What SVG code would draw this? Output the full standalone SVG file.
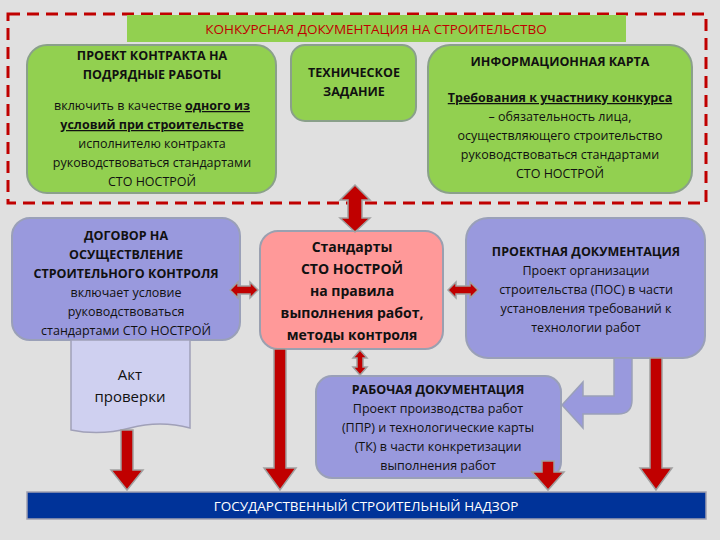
<svg xmlns="http://www.w3.org/2000/svg" width="720" height="540" viewBox="0 0 720 540">
<defs>
<style>
text{font-family:"Open Sans","Liberation Sans",sans-serif;text-anchor:middle;fill:#111}
.b{font-weight:bold}
.s{font-size:12.5px}
.h{font-size:12.5px;font-weight:bold}
.g{fill:#92d050;stroke:#8aa08a;stroke-width:2}
.p{fill:#9999dd;stroke:#9aa0b8;stroke-width:2}
.ar{fill:#c00000;stroke:#a0a0a0;stroke-width:1.5}
</style>
</defs>
<rect width="720" height="540" fill="#e0e0e0"/>
<rect x="8" y="14" width="698" height="189" fill="none" stroke="#c00000" stroke-width="3" stroke-dasharray="12,7"/>
<g id="title"><rect x="127" y="15" width="499" height="27" fill="#92d050"/>
<text x="376" y="34" style="font-size:13.5px;fill:#c00000">КОНКУРСНАЯ ДОКУМЕНТАЦИЯ НА СТРОИТЕЛЬСТВО</text></g>
<g id="contract"><rect class="g" x="27" y="45" width="249" height="148" rx="20"/>
<text class="h" x="152" y="60">ПРОЕКТ КОНТРАКТА НА</text>
<text class="h" x="152" y="79">ПОДРЯДНЫЕ РАБОТЫ</text>
<text class="s" x="152" y="110">включить в качестве <tspan class="b" text-decoration="underline">одного из</tspan></text>
<text class="s b" x="152" y="129" text-decoration="underline">условий при строительстве</text>
<text class="s" x="152" y="148">исполнителю контракта</text>
<text class="s" x="152" y="167">руководствоваться стандартами</text>
<text class="s" x="152" y="186">СТО НОСТРОЙ</text></g>
<g id="tz"><rect class="g" x="291" y="45" width="125" height="76" rx="14"/>
<text class="h" x="354" y="77">ТЕХНИЧЕСКОЕ</text>
<text class="h" x="354" y="96">ЗАДАНИЕ</text></g>
<g id="info"><rect class="g" x="428" y="45" width="264" height="148" rx="22"/>
<text class="h" x="560" y="66">ИНФОРМАЦИОННАЯ КАРТА</text>
<text class="h" x="560" y="102" text-decoration="underline">Требования к участнику конкурса</text>
<text class="s" x="560" y="121">– обязательность  лица,</text>
<text class="s" x="560" y="140">осуществляющего строительство</text>
<text class="s" x="560" y="159">руководствоваться стандартами</text>
<text class="s" x="560" y="178">СТО НОСТРОЙ</text></g>
<g id="dogovor"><rect class="p" x="12" y="218" width="228" height="122" rx="18"/>
<text class="h" x="126" y="240">ДОГОВОР НА</text>
<text class="h" x="126" y="259">ОСУЩЕСТВЛЕНИЕ</text>
<text class="h" x="126" y="278">СТРОИТЕЛЬНОГО КОНТРОЛЯ</text>
<text class="s" x="126" y="297">включает условие</text>
<text class="s" x="126" y="316">руководствоваться</text>
<text class="s" x="126" y="335">стандартами СТО НОСТРОЙ</text></g>
<g id="akt"><path d="M71 340 H190 V428 Q160 420 130 428 Q100 436 71 430 Z" fill="#cfd0f0" stroke="#a0a0b8" stroke-width="1.5"/>
<text x="130" y="380" style="font-size:15px">Акт</text>
<text x="130" y="402" style="font-size:15px">проверки</text></g>
<g id="std"><rect x="260" y="231" width="183" height="118" rx="18" fill="#ff9999" stroke="#9aa0b0" stroke-width="2"/>
<text class="b" x="352" y="252" style="font-size:14px">Стандарты</text>
<text class="b" x="352" y="274" style="font-size:14px">СТО НОСТРОЙ</text>
<text class="b" x="352" y="296" style="font-size:14px">на правила</text>
<text class="b" x="352" y="318" style="font-size:14px">выполнения работ,</text>
<text class="b" x="352" y="340" style="font-size:14px">методы контроля</text></g>
<g id="proekt"><rect class="p" x="466" y="218" width="239" height="140" rx="22"/>
<text class="h" x="586" y="256">ПРОЕКТНАЯ ДОКУМЕНТАЦИЯ</text>
<text class="s" x="586" y="275">Проект организации</text>
<text class="s" x="586" y="294">строительства (ПОС) в части</text>
<text class="s" x="586" y="313">установления требований к</text>
<text class="s" x="586" y="332">технологии работ</text></g>
<g id="rabochaya"><rect class="p" x="316" y="376" width="245" height="102" rx="16"/>
<text class="h" x="438" y="394">РАБОЧАЯ ДОКУМЕНТАЦИЯ</text>
<text class="s" x="438" y="413">Проект производства работ</text>
<text class="s" x="438" y="432">(ППР) и технологические карты</text>
<text class="s" x="438" y="451">(ТК) в части конкретизации</text>
<text class="s" x="438" y="470">выполнения работ</text></g>
<g id="nadzor"><rect x="27" y="492" width="679" height="27" fill="#003399" stroke="#a0a0b0" stroke-width="1.5"/>
<text x="366" y="511" style="font-size:13.5px;fill:#fff">ГОСУДАРСТВЕННЫЙ СТРОИТЕЛЬНЫЙ НАДЗОР</text></g>
<g id="connectors">
<path d="M632 358 V400 Q632 414 618 414 H583 V428 L562 405 L583 382 V396 H614 V358 Z" fill="#9999dd" stroke="#9aa0b8" stroke-width="1.5"/>
<path class="ar" d="M355 185 L370 200 H362 V218 H370 L355 232 L340 218 H348 V200 H340 Z"/>
<path class="ar" d="M230 290 L238 282 V286 H250 V282 L258 290 L250 298 V294 H238 V298 Z"/>
<path class="ar" d="M448 290 L456 282 V286 H470 V282 L478 290 L470 298 V294 H456 V298 Z"/>
<path class="ar" d="M360 350 L367 358 H363 V367 H367 L360 375 L353 367 H357 V358 H353 Z"/>
<path class="ar" d="M121 430 H133 V470 H143 L127 490 L111 470 H121 Z"/>
<path class="ar" d="M274 349 H286 V468 H296 L280 490 L264 468 H274 Z"/>
<path class="ar" d="M542 461 H554 V472 H564 L548 490 L532 472 H542 Z"/>
<path class="ar" d="M650 358 H662 V468 H672 L656 490 L640 468 H650 Z"/>
</g>
</svg>
